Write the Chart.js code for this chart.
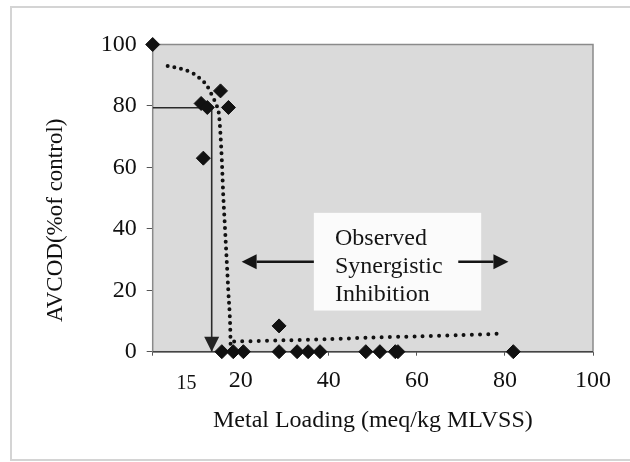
<!DOCTYPE html>
<html>
<head>
<meta charset="utf-8">
<script src="https://cdn.jsdelivr.net/npm/chart.js@4.4.1/dist/chart.umd.min.js"></script>
<style>
  html, body { margin: 0; padding: 0; background: #fff; }
  canvas { display: block; }
</style>
</head>
<body>
<canvas id="inhibition" width="630" height="462"></canvas>
<script>
// measured AV COD (% of control) against metal loading
const loading  = [0, 11.0, 12.4, 15.4, 17.2, 11.5, 15.7, 18.3, 20.6, 28.7, 28.7, 32.8, 35.3, 38.0, 48.4, 51.6, 55.1, 55.7, 81.9];
const activity = [100, 80.8, 79.5, 84.9, 79.5, 63.0, 0, 0, 0, 0, 8.4, 0, 0, 0, 0, 0, 0, 0, 0];

// dotted trend, steep part
const dropX = [3.4, 5.5, 7.3, 9.2, 10.7, 11.9, 12.9, 13.6, 14.5, 15.1, 15.7, 16.0, 16.4, 16.8, 17.2, 17.6, 17.7];
const dropY = [93.0, 92.4, 91.7, 90.6, 89.0, 87.4, 85.2, 83.0, 80.3, 76.5, 62.4, 51.6, 40.7, 29.9, 19.0, 8.1, 1.6];

// dotted trend, flat tail
const tailX = [18.5, 30, 40, 50, 60, 70, 79.8];
const tailY = [3.3, 3.7, 4.1, 4.6, 5.0, 5.4, 5.9];

// read-off at 80 % activity
const readX = [0, 13.4, 13.4];
const readY = [79.4, 79.4, 0];

const xTickExtra = ['15'];
const noteLines = ['Observed', 'Synergistic', 'Inhibition'];

const pts = (xs, ys) => xs.map((v, i) => ({ x: v, y: ys[i] }));

function arrow(ctx, x0, y0, x1, y1, len, half, width) {
    const ang = Math.atan2(y1 - y0, x1 - x0);
    const bx = x1 - Math.cos(ang) * len, by = y1 - Math.sin(ang) * len;
    ctx.lineWidth = width;
    ctx.beginPath(); ctx.moveTo(x0, y0); ctx.lineTo(bx, by); ctx.stroke();
    ctx.beginPath();
    ctx.moveTo(x1, y1);
    ctx.lineTo(bx - Math.sin(ang) * half, by + Math.cos(ang) * half);
    ctx.lineTo(bx + Math.sin(ang) * half, by - Math.cos(ang) * half);
    ctx.closePath();
    ctx.fill();
}

const notes = {
    id: 'notes',
    beforeDraw(chart) {
        const { ctx, chartArea: a } = chart;
        ctx.save();
        ctx.strokeStyle = '#d4d4d4';
        ctx.lineWidth = 2;
        ctx.strokeRect(11, 7, 660, 453);
        ctx.fillStyle = '#dadada';
        ctx.fillRect(a.left, a.top, a.right - a.left, a.bottom - a.top);
        ctx.restore();
    },
    beforeDatasetsDraw(chart) {
        const { ctx, chartArea: a, scales: { x, y } } = chart;
        ctx.save();
        // plot frame
        ctx.lineWidth = 1.5;
        ctx.strokeStyle = '#8a8a8a';
        ctx.strokeRect(a.left, a.top, a.right - a.left, a.bottom - a.top);
        ctx.strokeStyle = '#444';
        ctx.beginPath(); ctx.moveTo(a.left, a.bottom); ctx.lineTo(a.right, a.bottom); ctx.stroke();

        // label box
        const bx0 = x.getPixelForValue(36.6), bx1 = x.getPixelForValue(74.6);
        const by0 = y.getPixelForValue(45.2), by1 = y.getPixelForValue(13.4);
        ctx.fillStyle = '#fbfbfb';
        ctx.fillRect(bx0, by0, bx1 - bx0, by1 - by0);

        ctx.fillStyle = '#151515';
        ctx.strokeStyle = '#151515';
        const ay = y.getPixelForValue(29.3);
        arrow(ctx, bx0, ay, x.getPixelForValue(20.2), ay, 15, 7.5, 2.6);
        arrow(ctx, x.getPixelForValue(69.4), ay, x.getPixelForValue(80.8), ay, 15, 7.5, 2.6);

        ctx.font = '24px "Liberation Serif"';
        ctx.textAlign = 'left';
        ctx.textBaseline = 'alphabetic';
        const tx = x.getPixelForValue(41.4);
        [34.7, 25.6, 16.5].forEach((v, i) => ctx.fillText(noteLines[i], tx, y.getPixelForValue(v)));
        ctx.restore();
    },
    afterDraw(chart) {
        const { ctx, scales: { x, y } } = chart;
        ctx.save();
        // arrow head of the read-off line
        ctx.fillStyle = '#222';
        const hx = x.getPixelForValue(readX[2]), hy = y.getPixelForValue(readY[2]);
        ctx.beginPath();
        ctx.moveTo(hx, hy);
        ctx.lineTo(hx - 7.5, hy - 15);
        ctx.lineTo(hx + 7.5, hy - 15);
        ctx.closePath();
        ctx.fill();

        ctx.fillStyle = '#111';
        ctx.font = '20px "Liberation Serif"';
        ctx.textAlign = 'center';
        ctx.textBaseline = 'middle';
        ctx.fillText(xTickExtra[0], x.getPixelForValue(7.7), x.top + 32);

        ctx.font = '23px "Liberation Serif"';
        ctx.translate(56, y.getPixelForValue(42.8));
        ctx.rotate(-Math.PI / 2);
        ctx.fillText('AVCOD(%of control)', 0, 0);
        ctx.restore();
    }
};

Chart.defaults.font.family = '"Liberation Serif", serif';
Chart.defaults.color = '#111';

const chart = new Chart(document.getElementById('inhibition'), {
    type: 'scatter',
    data: {
        datasets: [{
            data: pts(loading, activity),
            pointStyle: 'rectRot',
            pointRadius: 7,
            backgroundColor: '#111',
            borderColor: '#111',
            borderWidth: 1,
            clip: false
        }, {
            data: pts(dropX, dropY),
            showLine: true,
            pointRadius: 0,
            borderColor: '#111',
            borderWidth: 4,
            borderDash: [0, 6.8],
            borderCapStyle: 'round',
            cubicInterpolationMode: 'monotone'
        }, {
            data: pts(tailX, tailY),
            showLine: true,
            pointRadius: 0,
            borderColor: '#111',
            borderWidth: 4,
            borderDash: [0, 8.2],
            borderCapStyle: 'round',
            tension: 0.3
        }, {
            data: pts(readX, readY),
            showLine: true,
            pointRadius: 0,
            borderColor: '#2a2a2a',
            borderWidth: 1.6
        }]
    },
    options: {
        responsive: false,
        animation: false,
        layout: { autoPadding: false, padding: { left: 0, top: 44.5, right: 37, bottom: 0 } },
        plugins: { legend: { display: false }, tooltip: { enabled: false } },
        scales: {
            x: {
                type: 'linear', min: 0, max: 100,
                ticks: {
                    stepSize: 20, padding: 11, color: '#111',
                    font: { size: 24 },
                    callback: v => v === 0 ? '' : String(v)
                },
                grid: { drawOnChartArea: false, tickLength: 4, color: '#555' },
                border: { display: false },
                title: { display: true, text: 'Metal Loading (meq/kg MLVSS)', font: { size: 24 }, color: '#111', padding: { top: 0, bottom: 27 } },
                afterFit(scale) { scale.height = 110.3; }
            },
            y: {
                type: 'linear', min: 0, max: 100,
                ticks: {
                    stepSize: 20, padding: 10, color: '#111',
                    font: { size: 24 }
                },
                grid: { drawOnChartArea: false, tickLength: 6, color: '#555' },
                border: { display: false },
                afterFit(scale) { scale.width = 152.7; }
            }
        }
    },
    plugins: [notes]
});
</script>
</body>
</html>
